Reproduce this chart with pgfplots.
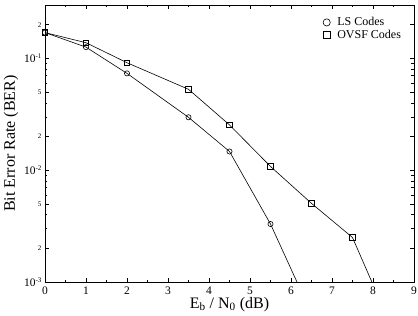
\documentclass[border=0pt]{standalone}
\usepackage{pgfplots}
\pgfplotsset{compat=1.18}
\usepackage{fontspec}
\setmainfont{Liberation Serif}
\newcommand{\dec}[1]{10\raisebox{0.85ex}{\fontsize{7}{7}\selectfont -#1}}
\newcommand{\sm}[1]{{\fontsize{7}{7}\selectfont #1}}
\begin{document}
\begin{tikzpicture}
\path[use as bounding box] (-45pt,-34pt) rectangle (373pt,282pt);
\begin{axis}[
  scale only axis, width=369pt, height=277pt,
  at={(0,0)}, anchor=south west,
  ymode=log, xmin=0, xmax=9, ymin=1e-3, ymax=0.3,
  xtick={0,1,...,9}, minor xtick={0.5,1.5,...,8.5},
  ytick={1e-3,2e-3,5e-3,1e-2,2e-2,5e-2,1e-1,2e-1},
  yticklabels={\dec{3},\sm{2},\sm{5},\dec{2},\sm{2},\sm{5},\dec{1},\sm{2}},
  minor ytick={3e-3,4e-3,6e-3,7e-3,8e-3,9e-3,3e-2,4e-2,6e-2,7e-2,8e-2,9e-2,3e-1},
  tick align=inside,
  major tick length=4pt, minor tick length=2.5pt,
  every tick/.style={black, line width=0.5pt},
  axis line style={line width=0.8pt},
  /pgf/number format/assume math mode=true,
  tick label style={font=\fontsize{11.5}{11.5}\selectfont},
  xticklabel style={yshift=-1pt},
  xlabel={E\textsubscript{b} / N\textsubscript{0} (dB)},
  ylabel={Bit Error Rate (BER)},
  label style={font=\fontsize{16}{16}\selectfont},
  xlabel style={yshift=4pt},
  ylabel style={yshift=-1pt},
  legend style={draw=none, fill=none, at={(axis description cs:0.745,0.97)}, anchor=north west,
    font=\fontsize{12}{13}\selectfont, row sep=-1.5pt},
  legend cell align=left,
  legend image code/.code={\draw[#1, only marks, mark size=3.6pt] plot coordinates {(0.1cm,0cm)};},
]
\addplot[black, line width=0.6pt, mark=o, mark size=2.6pt, mark options={line width=0.6pt}]
  coordinates {(0,0.17) (1,0.126) (2,0.0734) (3.5,0.0297) (4.5,0.0147) (5.5,0.0033) (6.5,0.00052)};
\addlegendentry{\hspace{5pt}LS Codes}
\addplot[black, line width=0.6pt, mark=square, mark size=2.8pt, mark options={line width=0.6pt}]
  coordinates {(0,0.17) (1,0.138) (2,0.0914) (3.5,0.0529) (4.5,0.0254) (5.5,0.0108) (6.5,0.00505) (7.5,0.0025) (8.5,0.00036)};
\addlegendentry{\hspace{5pt}OVSF Codes}
\end{axis}
\end{tikzpicture}
\end{document}
